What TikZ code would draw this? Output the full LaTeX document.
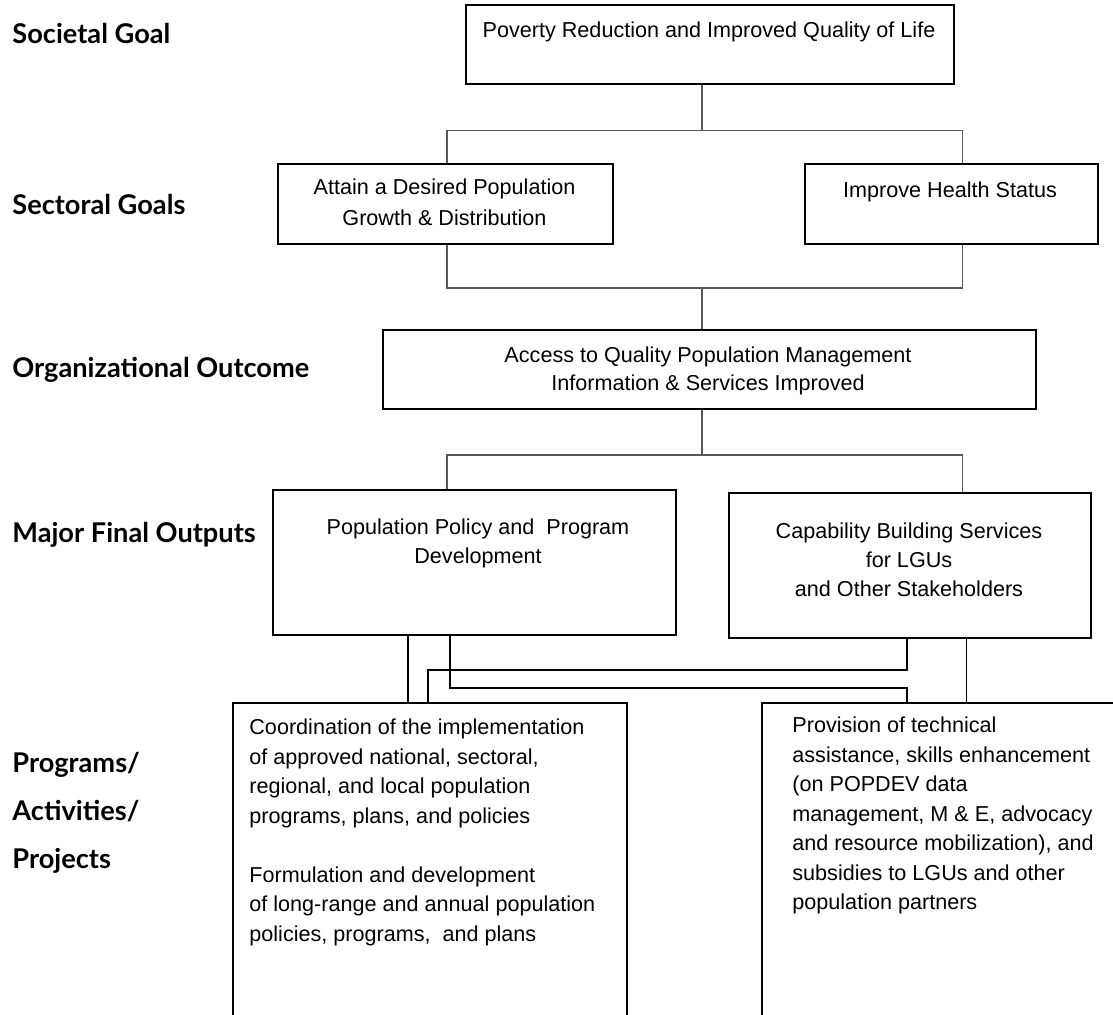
\documentclass[tikz,border=0pt]{standalone}
\usepackage{fontspec}
\setmainfont{Liberation Sans}
\newfontfamily\levelfont{Lato}
\usetikzlibrary{calc}
\definecolor{linkgray}{gray}{0.35}

\begin{document}
\begin{tikzpicture}[x=0.5pt, y=-0.5pt]
    \tikzstyle{box} = [rectangle, draw=black, line width=0.9pt, anchor=north west, inner sep=0pt]
    \tikzstyle{boxtext} = [align=center, inner sep=0pt, anchor=base, font=\fontsize{10.8}{14.5}\selectfont]
    \tikzstyle{listtext} = [align=left, inner sep=0pt, anchor=base west, font=\fontsize{10.8}{14.75}\selectfont]
    \tikzstyle{levellabel} = [align=left, inner sep=0pt, anchor=base west, font=\levelfont\bfseries\fontsize{13.6}{24}\selectfont]
    \tikzstyle{link} = [linkgray, line width=0.6pt]
    \tikzstyle{wire} = [black, line width=0.8pt]

    \useasboundingbox (0,0) rectangle (1113,1014);
    \clip (0,0) rectangle (1113,1014);

    % level labels (multi-line nodes sit on the baseline of their last line)
    \node (societal) [levellabel] at (12,43) {Societal Goal};
    \node (sectoral) [levellabel] at (12,214) {Sectoral Goals};
    \node (organizational) [levellabel] at (12,377) {Organizational Outcome};
    \node (majoroutputs) [levellabel] at (12,542) {Major Final Outputs};
    \node (programs) [levellabel] at (12,868) {Programs/\\Activities/\\Projects};

    % boxes
    \node (pov) [box, minimum width=244pt, minimum height=39.5pt] at (465,4) {};
    \node (growth) [box, minimum width=167.5pt, minimum height=40pt] at (277,163) {};
    \node (health) [box, minimum width=146.5pt, minimum height=40pt] at (804,163) {};
    \node (access) [box, minimum width=326.5pt, minimum height=39.5pt] at (382,329) {};
    \node (policy) [box, minimum width=201.5pt, minimum height=72.5pt] at (272,489) {};
    \node (capab) [box, minimum width=181pt, minimum height=72.5pt] at (728,492) {};
    \node (coord) [box, minimum width=197pt, minimum height=170pt] at (232,702) {};
    \node (assist) [box, minimum width=190pt, minimum height=170pt] at (761,702) {};

    % box texts
    \node (povtext) [boxtext] at (709,37) {Poverty Reduction and Improved Quality of Life};
    \node (growthtext) [boxtext, font=\fontsize{10.8}{15.5}\selectfont] at (444.5,225.5) {Attain a Desired Population\\Growth \& Distribution};
    \node (healthtext) [boxtext] at (950,197) {Improve Health Status};
    \node (accesstext) [boxtext, font=\fontsize{10.8}{14}\selectfont] at (708,390.5) {Access to Quality Population Management\\Information \& Services Improved};
    \node (policytext) [boxtext] at (478,563.5) {Population Policy and\ \ Program\\Development};
    \node (capabtext) [boxtext] at (909,596) {Capability Building Services\\for LGUs\\and Other Stakeholders};
    \node (coordtext) [listtext] at (249,941) {Coordination of the implementation\\of approved national, sectoral,\\regional, and local population\\programs, plans, and policies\\[14.75pt]Formulation and development\\of long-range and annual population\\policies, programs,\ \ and plans};
    \node (assisttext) [listtext] at (792,909.5) {Provision of technical\\assistance, skills enhancement\\(on POPDEV data\\management, M \& E, advocacy\\and resource mobilization), and\\subsidies to LGUs and other\\population partners};

    % junctions
    \coordinate (hubone) at (702,130.7);
    \coordinate (hubtwo) at (702,288);
    \coordinate (hubthree) at (702,455);
    \coordinate (leftx) at (447,0);
    \coordinate (rightx) at (962.7,0);

    \draw [link] (pov.south -| hubone) -- (hubone);
    \draw [link] (growth.north -| leftx) |- (hubone) -| (health.north -| rightx);
    \draw [link] (growth.south -| leftx) |- (hubtwo) -| (health.south -| rightx);
    \draw [link] (hubtwo) -- (access.north -| hubtwo);
    \draw [link] (access.south -| hubthree) -- (hubthree);
    \draw [link] (policy.north -| leftx) |- (hubthree) -| (capab.north -| rightx);

    % outputs to programs
    \coordinate (wirea) at (408,0);
    \coordinate (wireb) at (428,0);
    \coordinate (wirec) at (450,0);
    \coordinate (wired) at (907,0);
    \coordinate (wiree) at (966.5,0);
    \coordinate (jogup) at (0,670);
    \coordinate (jogdown) at (0,688);

    \draw [wire] (policy.south -| wirea) -- (coord.north -| wirea);
    \draw [wire] (policy.south -| wirec) -- (wirec |- jogdown) -| (assist.north -| wired);
    \draw [wire] (capab.south -| wired) -- (wired |- jogup) -| (coord.north -| wireb);
    \draw [wire] (capab.south -| wiree) -- (assist.north -| wiree);
\end{tikzpicture}
\end{document}
